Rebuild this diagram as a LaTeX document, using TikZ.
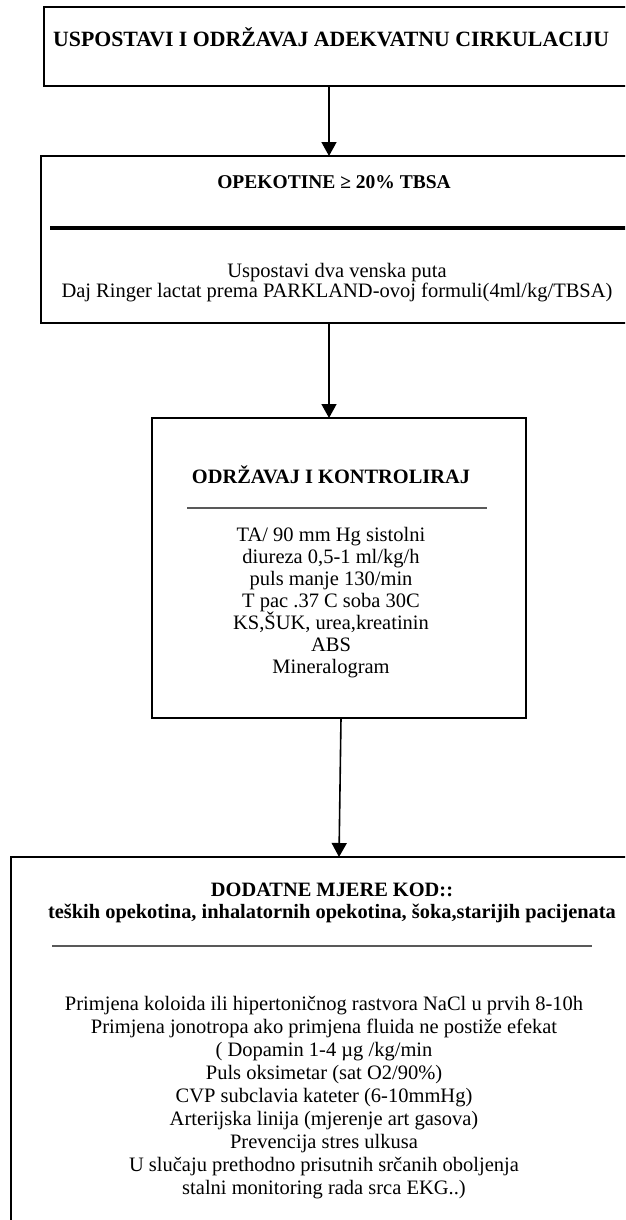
\documentclass[tikz,border=0pt]{standalone}
\usepackage{fontspec}
\setmainfont{Liberation Serif}
\usetikzlibrary{arrows.meta}

\tikzset{
    box/.style={draw, line width=2.2pt, anchor=north west, inner sep=0pt, outer sep=0pt},
    txt/.style={font=\fontsize{20.5}{22}\selectfont, align=center, inner sep=0pt},
    hd/.style={txt, font=\fontsize{20.4}{22}\selectfont\bfseries},
    arr/.style={line width=1.6pt, -{Triangle[width=15pt,length=14pt]}},
    rule/.style={line width=1.5pt, draw=black!65},
}

\begin{document}
\begin{tikzpicture}[x=1pt,y=-1pt]
    \useasboundingbox (0,0) rectangle (625,1220);
    \clip (0,0) rectangle (625,1220);

    \node[box, minimum width=640pt, minimum height=79pt] (cirk) at (44,7) {};
    \node[hd, anchor=west, font=\fontsize{21.8}{24}\selectfont\bfseries] (cirkt) at (53,37) {USPOSTAVI I ODRŽAVAJ ADEKVATNU CIRKULACIJU};

    \node[box, minimum width=640pt, minimum height=167pt] (opek) at (41,156) {};
    \node[hd, font=\fontsize{19.5}{22}\selectfont\bfseries] (opekt) at (334,182) {OPEKOTINE ≥ 20\% TBSA};
    \draw[line width=4pt] (50,228) -- (640,228);
    \node[txt, font=\fontsize{20.5}{20}\selectfont] (opekb) at (337,283) {Uspostavi dva venska puta\\
        Daj Ringer lactat prema PARKLAND-ovoj formuli(4ml/kg/TBSA)};

    \node[box, minimum width=374pt, minimum height=300pt] (kontr) at (152,418) {};
    \node[hd] (kontrt) at (331,475) {ODRŽAVAJ I KONTROLIRAJ};
    \draw[rule] (187,508) -- (487,508);
    \node[txt] (kontrb) at (331,603) {TA/ 90 mm Hg sistolni\\
        diureza 0,5-1 ml/kg/h\\
        puls manje 130/min\\
        T pac .37 C soba 30C\\
        KS,ŠUK, urea,kreatinin\\
        ABS\\
        Mineralogram};

    \node[box, minimum width=650pt, minimum height=420pt] (mjere) at (11,857) {};
    \node[hd] (mjeret) at (332,903) {DODATNE MJERE KOD::\\
        teških opekotina, inhalatornih opekotina, šoka,starijih pacijenata};
    \draw[rule] (52,946) -- (592,946);
    \node[txt, font=\fontsize{20.5}{23}\selectfont] (mjereb) at (324,1098) {Primjena koloida ili hipertoničnog rastvora NaCl u prvih 8-10h\\
        Primjena jonotropa ako primjena fluida ne postiže efekat\\
        ( Dopamin 1-4 µg /kg/min\\
        Puls oksimetar (sat O2/90\%)\\
        CVP subclavia kateter (6-10mmHg)\\
        Arterijska linija (mjerenje art gasova)\\
        Prevencija stres ulkusa\\
        U slučaju prethodno prisutnih srčanih oboljenja\\
        stalni monitoring rada srca EKG..)};

    \draw[arr] ([xshift=285pt]cirk.south west) -- ([xshift=288pt]opek.north west);
    \draw[arr] ([xshift=288pt]opek.south west) -- ([xshift=177pt]kontr.north west);
    \draw[arr] ([xshift=2pt]kontr.south) -- (mjere.north -| kontr.south);
\end{tikzpicture}
\end{document}
